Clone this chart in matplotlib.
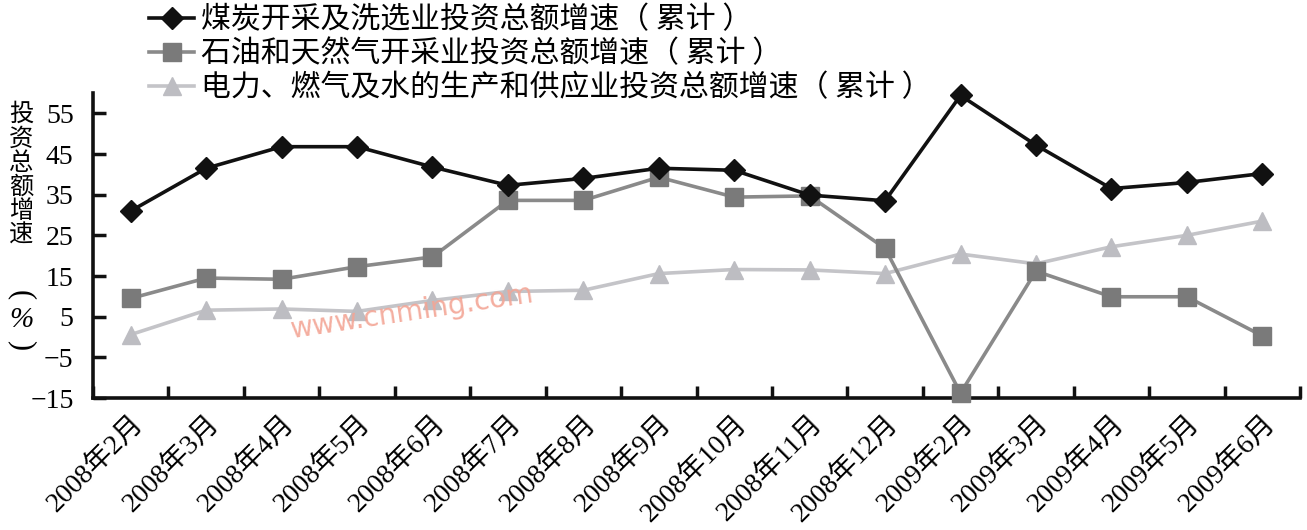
import matplotlib
matplotlib.use("Agg")
import matplotlib.pyplot as plt
import matplotlib.transforms as mtransforms
import numpy as np

categories = ["2008年2月", "2008年3月", "2008年4月", "2008年5月", "2008年6月", "2008年7月",
              "2008年8月", "2008年9月", "2008年10月", "2008年11月", "2008年12月", "2009年2月",
              "2009年3月", "2009年4月", "2009年5月", "2009年6月"]
coal = [31.0, 41.5, 46.8, 46.8, 41.8, 37.3, 39.0, 41.5, 41.0, 34.9, 33.5, 59.4, 47.2, 36.5, 38.0, 40.2]
oil = [9.5, 14.5, 14.2, 17.3, 19.7, 33.6, 33.6, 39.3, 34.4, 34.7, 21.8, -13.8, 16.2, 9.9, 9.9, 0.3]
power = [0.6, 6.6, 6.9, 6.3, 9.0, 11.2, 11.5, 15.6, 16.6, 16.5, 15.6, 20.4, 18.0, 22.2, 25.0, 28.5]
series_names = ["煤炭开采及洗选业投资总额增速（ 累计 ）",
                "石油和天然气开采业投资总额增速（ 累计 ）",
                "电力、燃气及水的生产和供应业投资总额增速（ 累计 ）"]
yticks = [-15, -5, 5, 15, 25, 35, 45, 55]
ylabel_chars = ["投", "资", "总", "额", "增", "速", "(", "%", ")"]

plt.rcParams['font.family'] = ['Liberation Serif', 'Noto Sans CJK SC', 'DejaVu Sans']

W, H = 1307, 530
fig = plt.figure(figsize=(W / 100, H / 100), dpi=100)
ax = fig.add_axes([0.0712, 0.249, 0.9234, 0.5755])

x = np.arange(len(categories))
l1, = ax.plot(x, coal, color='#111111', lw=2.6, marker='D', ms=11, mfc='#111111', mec='#111111', clip_on=False, zorder=5)
l2, = ax.plot(x, oil, color='#8a8a8a', lw=2.6, marker='s', ms=13, mfc='#7a7a7a', mec='#7a7a7a', clip_on=False, zorder=4)
l3, = ax.plot(x, power, color='#c4c4c8', lw=2.6, marker='^', ms=13, mfc='#bdbdc2', mec='#bdbdc2', clip_on=False, zorder=3)

ax.set_xlim(-0.5, len(categories) - 0.5)
ax.set_ylim(-15, 60)
ax.set_yticks(yticks)
ax.set_yticklabels([str(v).replace('-', '−') for v in yticks], fontsize=20, family=['Liberation Serif'])
ax.set_xticks(x)
ax.set_xticklabels(categories, rotation=45, ha='right', rotation_mode='anchor', fontsize=20)
offset = mtransforms.ScaledTranslation(0.15, 0.0, fig.dpi_scale_trans)
for lab in ax.get_xticklabels():
    lab.set_transform(lab.get_transform() + offset)
ax.set_xticks(np.arange(-0.5, len(categories) + 0.5, 1), minor=True)
ax.tick_params(axis='x', which='major', length=0, pad=9)
ax.tick_params(axis='x', which='minor', direction='in', length=9, width=2.5, color='#111111')
ax.tick_params(axis='y', direction='in', length=9, width=2.5, color='#111111', pad=14)

for s in ['top', 'right']:
    ax.spines[s].set_visible(False)
for s in ['left', 'bottom']:
    ax.spines[s].set_linewidth(2.6)
    ax.spines[s].set_color('#111111')

fig.legend([l1, l2, l3], series_names, loc='upper left', bbox_to_anchor=(0.105, 1.014),
           frameon=False, prop={'family': ['Noto Sans CJK SC'], 'size': 21.5},
           handlelength=1.5, handletextpad=0.25, labelspacing=0.1, borderaxespad=0)

# vertical y-axis title, one character per line
ycenters = [114, 139, 163, 187, 211, 235, 295, 320, 345]
for ch, yc in zip(ylabel_chars, ycenters):
    if ch in "()":
        fig.text(21 / W, 1 - yc / H, ch, fontsize=22, family=['Liberation Serif'],
                 ha='center', va='center', rotation=-90, rotation_mode='anchor')
    elif ch == "%":
        fig.text(21 / W, 1 - yc / H, ch, fontsize=21, family=['Liberation Serif'],
                 ha='center', va='center', style='italic')
    else:
        fig.text(21 / W, 1 - yc / H, ch, fontsize=17.5, family=['Noto Sans CJK SC'],
                 ha='center', va='center')

fig.text(292 / W, 1 - 338 / H, "www.cnming.com", fontsize=20, color='#f3a595', rotation=8.5,
         family=['DejaVu Sans'], alpha=0.9, zorder=10, rotation_mode='anchor')

fig.savefig("out.png", dpi=100)
